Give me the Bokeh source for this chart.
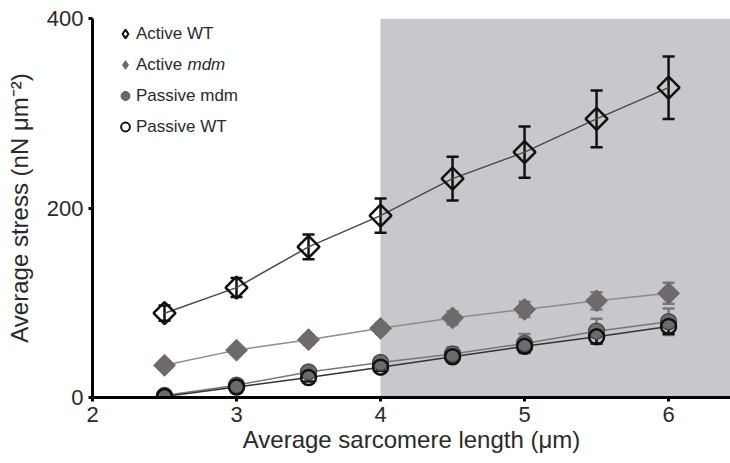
import numpy as np
from bokeh.plotting import figure
from bokeh.models import (ColumnDataSource, Range1d, BoxAnnotation, Whisker, TeeHead,
                          Legend, LegendItem, FixedTicker, Label)
from bokeh.embed import file_html
from bokeh.resources import INLINE

# ---- data ----
sarcomere_length = [2.5, 3.0, 3.5, 4.0, 4.5, 5.0, 5.5, 6.0]
active_wt = [89, 116, 159, 192, 231, 259, 294, 327]
active_wt_err = [8, 10, 13, 18, 23, 27, 30, 33]
active_mdm = [34, 50, 61, 73, 84, 93, 102, 110]
active_mdm_err = [4, 4, 5, 5, 7, 8, 9, 11]
passive_mdm = [2, 13, 27, 37, 46, 57, 70, 80]
passive_mdm_err = [2, 3, 4, 5, 7, 10, 13, 14]
passive_wt = [1, 11, 21, 32, 43, 54, 64, 75]
passive_wt_err = [2, 3, 4, 4, 5, 6, 7, 8]
shade_start = 4.0
x_ticks = [2, 3, 4, 5, 6]
y_ticks = [0, 200, 400]
series_labels = ["Active WT", "Active", "Passive mdm", "Passive WT"]

FONT = "Liberation Sans"
TXT = "#2a2a2a"

def src(y, e):
    return ColumnDataSource(dict(x=sarcomere_length, y=y,
                                 lo=[a - b for a, b in zip(y, e)],
                                 hi=[a + b for a, b in zip(y, e)]))

s_awt = src(active_wt, active_wt_err)
s_amdm = src(active_mdm, active_mdm_err)
s_pmdm = src(passive_mdm, passive_mdm_err)
s_pwt = src(passive_wt, passive_wt_err)

p = figure(width=730, height=463, output_backend="svg", toolbar_location=None,
           x_range=Range1d(2, 6.43), y_range=Range1d(0, 400),
           min_border_left=92, min_border_right=0, min_border_top=18, min_border_bottom=66)
p.outline_line_color = None
p.grid.visible = False
p.background_fill_color = "white"

p.add_layout(BoxAnnotation(left=shade_start, fill_color="#c8c8cc", fill_alpha=1.0,
                           line_color=None, level="image"))

# connecting lines
p.line("x", "y", source=s_amdm, line_color="#8c8c8c", line_width=1.5)
p.line("x", "y", source=s_pmdm, line_color="#777777", line_width=1.5)
p.line("x", "y", source=s_pwt, line_color="#333333", line_width=1.5)
p.line("x", "y", source=s_awt, line_color="#4a4a4a", line_width=1.5)

def whisk(s, color):
    w = Whisker(source=s, base="x", upper="hi", lower="lo", line_color=color, line_width=2.5,
                upper_head=TeeHead(size=12, line_color=color, line_width=2.5),
                lower_head=TeeHead(size=12, line_color=color, line_width=2.5),
                level="underlay")
    p.add_layout(w)

whisk(s_amdm, "#7a7a7a")
whisk(s_pmdm, "#7a7a7a")
whisk(s_pwt, "#111111")
whisk(s_awt, "#111111")

p.scatter("x", "y", source=s_amdm, marker="square", angle=np.pi / 4, size=15.5,
          fill_color="#6e6a6b", line_color="#6e6a6b", line_width=1)
p.scatter("x", "y", source=s_pmdm, marker="circle", size=16,
          fill_color="#6b6b6b", line_color="#4a4a4a", line_width=1.5)
p.scatter("x", "y", source=s_pwt, marker="circle", size=15,
          fill_color=None, line_color="#111111", line_width=2.5)
p.scatter("x", "y", source=s_awt, marker="square", angle=np.pi / 4, size=15.5,
          fill_color=None, line_color="#111111", line_width=2.5)

# legend-only renderers (hidden; the legend ignores marker angle, so diamonds here)
g_awt = p.scatter("x", "y", source=s_awt, marker="diamond", fill_color=None,
                  line_color="#111111", line_width=2, visible=False)
g_amdm = p.scatter("x", "y", source=s_amdm, marker="diamond", fill_color="#6e6a6b",
                   line_color="#6e6a6b", line_width=1, visible=False)
g_pmdm = p.scatter("x", "y", source=s_pmdm, marker="circle", fill_color="#6b6b6b",
                   line_color="#4a4a4a", line_width=1, visible=False)
g_pwt = p.scatter("x", "y", source=s_pwt, marker="circle", fill_color=None,
                  line_color="#111111", line_width=2, visible=False)

# axes
for ax in (p.xaxis[0], p.yaxis[0]):
    ax.axis_line_width = 3
    ax.axis_line_color = "black"
    ax.major_tick_line_width = 3
    ax.major_tick_line_color = "black"
    ax.major_tick_out = 4
    ax.major_tick_in = 0
    ax.minor_tick_line_color = None
    ax.major_label_text_font = FONT
    ax.major_label_text_font_size = "22px"
    ax.major_label_text_color = TXT
    ax.axis_label_text_font = FONT
    ax.axis_label_text_font_size = "24px"
    ax.axis_label_text_font_style = "normal"
    ax.axis_label_text_color = TXT

p.xaxis.ticker = FixedTicker(ticks=x_ticks)
p.yaxis.ticker = FixedTicker(ticks=y_ticks)
p.xaxis.axis_label = "Average sarcomere length (\u03bcm)"
p.yaxis.axis_label = "Average stress (nN \u03bcm\u207b\u00b2)"
p.xaxis.major_label_standoff = 5
p.yaxis.major_label_standoff = 5
p.xaxis.axis_label_standoff = 1
p.yaxis.axis_label_standoff = 11

legend = Legend(items=[
    LegendItem(label=series_labels[0], renderers=[g_awt]),
    LegendItem(label=series_labels[1], renderers=[g_amdm]),
    LegendItem(label=series_labels[2], renderers=[g_pmdm]),
    LegendItem(label=series_labels[3], renderers=[g_pwt]),
], location=(22, 255))
legend.padding = 0
legend.margin = 0
legend.spacing = 0
legend.glyph_width = 22
legend.glyph_height = 31
legend.label_height = 20
legend.label_standoff = 0
legend.label_text_font = FONT
legend.label_text_font_size = "17px"
legend.label_text_color = TXT
legend.border_line_color = None
legend.background_fill_alpha = 0
p.add_layout(legend)

# italic part of the second legend entry
p.add_layout(Label(x=95, y=333, x_units="screen", y_units="screen", text="mdm",
                   text_font=FONT, text_font_size="17px", text_font_style="italic",
                   text_color=TXT, text_baseline="middle", text_align="left"))

open("out.html", "w").write(file_html(p, INLINE))
